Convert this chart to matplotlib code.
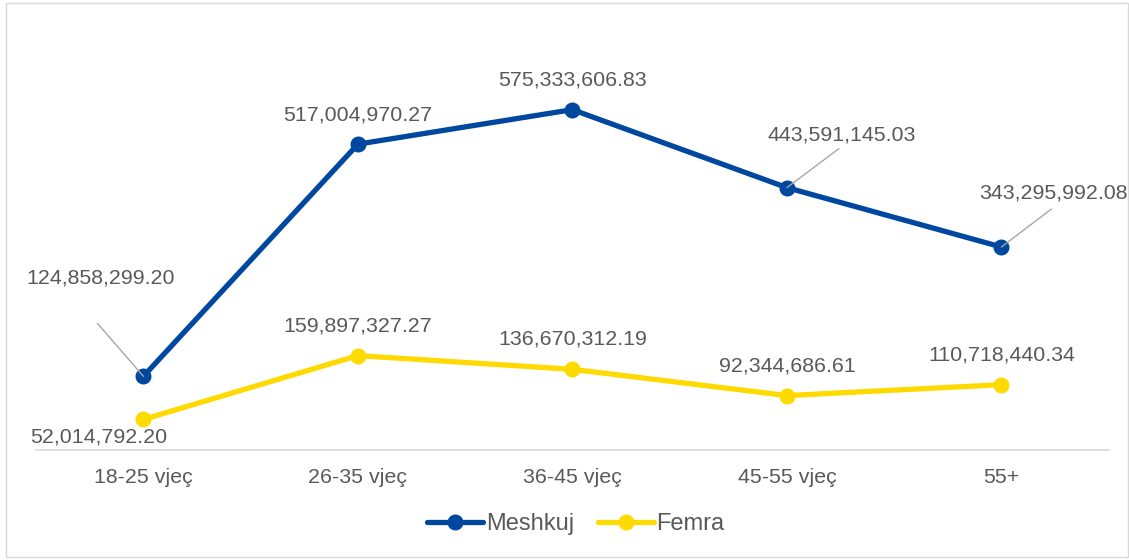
import matplotlib.pyplot as plt
from matplotlib.patches import Rectangle

plt.rcParams['font.family'] = ['Liberation Sans', 'DejaVu Sans']

categories = ["18-25 vjeç", "26-35 vjeç", "36-45 vjeç", "45-55 vjeç", "55+"]
meshkuj = [124858299.20, 517004970.27, 575333606.83, 443591145.03, 343295992.08]
femra = [52014792.20, 159897327.27, 136670312.19, 92344686.61, 110718440.34]

blue = "#0047A0"
yellow = "#FFDA00"
txt = "#595959"
fs = 15.4

fig = plt.figure(figsize=(11.29, 5.6), dpi=100)
ax = fig.add_axes([0.032, 0.196, 0.950, 0.74])

x = list(range(len(categories)))
ax.plot(x, meshkuj, color=blue, lw=3.8, marker="o", ms=10.5, label="Meshkuj", solid_capstyle="round")
ax.plot(x, femra, color=yellow, lw=3.8, marker="o", ms=10.5, label="Femra", solid_capstyle="round")

ax.set_xlim(-0.5, 4.5)
ax.set_ylim(0, 700e6)
ax.set_yticks([])
ax.set_xticks(x)
ax.set_xticklabels(categories, fontsize=fs, color=txt)
ax.tick_params(axis="x", length=0, pad=13)
for s in ["top", "right", "left"]:
    ax.spines[s].set_visible(False)
ax.spines["bottom"].set_color("#D9D9D9")
ax.spines["bottom"].set_linewidth(1.2)

fmt = "{:,.2f}"
# label offsets (dx, dy) in pixels, and leader start offset (or None)
m_off = [(-43, 98, (-46, 53)), (0, 29, None), (0, 30, None), (55, 53, (52, 39)), (52, 54, (50, 38))]
f_off = [(-45, -18, None), (0, 30, None), (0, 30, None), (0, 30, None), (0, 30, None)]

for series, offs in [(meshkuj, m_off), (femra, f_off)]:
    for i, (v, (dx, dy, lead)) in enumerate(zip(series, offs)):
        ax.annotate(fmt.format(v), (i, v), xytext=(dx, dy), textcoords="offset pixels",
                    ha="center", va="center", fontsize=fs, color=txt)
        if lead is not None:
            ax.annotate("", (i, v), xytext=lead, textcoords="offset pixels",
                        arrowprops=dict(arrowstyle="-", color="#A6A6A6", lw=1.0,
                                        shrinkA=0, shrinkB=0))

fig.legend(loc="center", bbox_to_anchor=(0.51, 0.064), ncol=2, frameon=False,
           fontsize=17, labelcolor=txt, handlelength=2.4, handletextpad=0.1,
           columnspacing=1.0)

fig.patches.append(Rectangle((0.005, 0.005), 0.994, 0.99, transform=fig.transFigure,
                             fill=False, edgecolor="#D9D9D9", lw=1.0))

fig.savefig("out.png", dpi=100, facecolor="white")
